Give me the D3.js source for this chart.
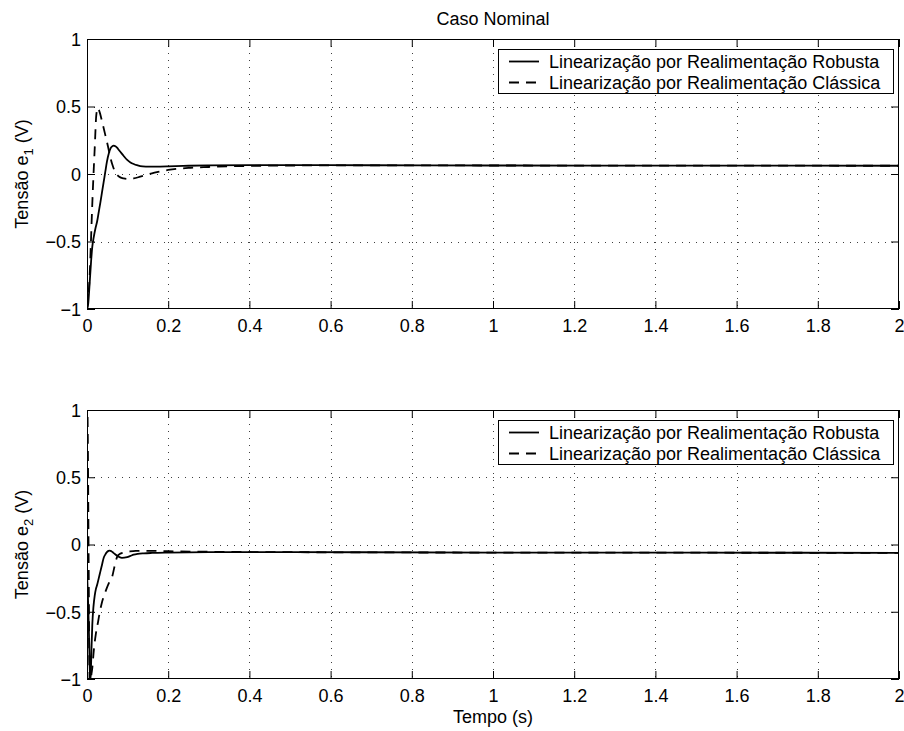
<!DOCTYPE html>
<html>
<head>
<meta charset="utf-8">
<script src="https://cdn.jsdelivr.net/npm/d3@7"></script>
<style>
  html, body { margin: 0; padding: 0; background: #fff; }
  svg { display: block; font-family: "Liberation Sans", Arial, Helvetica, sans-serif; }
</style>
</head>
<body>
<svg id="chart" width="904" height="731"></svg>
<script>
// ---------- data ----------
const chartTitle = "Caso Nominal";
const xLabel = "Tempo (s)";
const seriesNames = ["Linearização por Realimentação Robusta", "Linearização por Realimentação Clássica"];
const xTicks = [0, 0.2, 0.4, 0.6, 0.8, 1, 1.2, 1.4, 1.6, 1.8, 2];
const xTickLabels = ["0", "0.2", "0.4", "0.6", "0.8", "1", "1.2", "1.4", "1.6", "1.8", "2"];
const yTicks = [-1, -0.5, 0, 0.5, 1];
const yTickLabels = ["\u22121", "\u22120.5", "0", "0.5", "1"];

// panel 1: e1
const t1Robust = [0, 0.003, 0.0065, 0.010, 0.013, 0.0165, 0.021, 0.025, 0.029, 0.033, 0.037, 0.041, 0.045, 0.049, 0.054, 0.058, 0.062, 0.066, 0.070, 0.074, 0.078, 0.082, 0.090, 0.099, 0.107, 0.115, 0.123, 0.131, 0.145, 0.160, 0.18, 0.2, 0.25, 0.3, 0.4, 0.5, 0.7, 1.0, 1.5, 2.0];
const e1Robust = [-1, -0.96, -0.81, -0.65, -0.54, -0.47, -0.40, -0.35, -0.28, -0.21, -0.135, -0.06, 0.015, 0.09, 0.155, 0.19, 0.205, 0.21, 0.205, 0.195, 0.18, 0.165, 0.135, 0.104, 0.086, 0.074, 0.065, 0.059, 0.055, 0.054, 0.055, 0.057, 0.061, 0.064, 0.066, 0.066, 0.065, 0.063, 0.062, 0.061];
const t1Classic = [0, 0.003, 0.0066, 0.0095, 0.0123, 0.0155, 0.019, 0.023, 0.027, 0.031, 0.037, 0.045, 0.052, 0.058, 0.064, 0.070, 0.076, 0.082, 0.090, 0.1, 0.107, 0.115, 0.131, 0.145, 0.160, 0.18, 0.2, 0.25, 0.3, 0.35, 0.4, 0.5, 0.7, 1.0, 1.5, 2.0];
const e1Classic = [-1, -0.92, -0.75, -0.52, -0.28, -0.04, 0.19, 0.44, 0.49, 0.46, 0.39, 0.29, 0.2, 0.116, 0.055, 0.012, -0.012, -0.025, -0.033, -0.037, -0.037, -0.033, -0.02, -0.008, 0.005, 0.018, 0.03, 0.045, 0.052, 0.057, 0.060, 0.063, 0.064, 0.063, 0.062, 0.061];

// panel 2: e2
const t2Robust = [0, 0.003, 0.0055, 0.0078, 0.0095, 0.011, 0.013, 0.016, 0.019, 0.022, 0.025, 0.029, 0.033, 0.037, 0.041, 0.045, 0.049, 0.053, 0.056, 0.060, 0.065, 0.070, 0.075, 0.080, 0.086, 0.092, 0.099, 0.107, 0.115, 0.125, 0.14, 0.16, 0.2, 0.3, 0.5, 1.0, 1.5, 2.0];
const e2Robust = [-0.2, -0.45, -0.75, -1.02, -0.95, -0.78, -0.6, -0.46, -0.38, -0.33, -0.30, -0.25, -0.20, -0.15, -0.10, -0.075, -0.057, -0.047, -0.045, -0.05, -0.062, -0.074, -0.085, -0.094, -0.099, -0.098, -0.094, -0.085, -0.076, -0.07, -0.066, -0.063, -0.06, -0.057, -0.057, -0.06, -0.061, -0.062];
const t2Classic = [0, 0.002, 0.004, 0.006, 0.008, 0.010, 0.013, 0.017, 0.022, 0.027, 0.031, 0.036, 0.042, 0.048, 0.055, 0.062, 0.068, 0.074, 0.080, 0.087, 0.095, 0.105, 0.12, 0.14, 0.17, 0.2, 0.3, 0.5, 1.0, 1.5, 2.0];
const e2Classic = [1.2, 0.8, -0.1, -0.95, -1.15, -1.0, -0.92, -0.78, -0.66, -0.58, -0.51, -0.44, -0.38, -0.33, -0.28, -0.24, -0.16, -0.094, -0.072, -0.062, -0.056, -0.052, -0.048, -0.047, -0.048, -0.05, -0.054, -0.057, -0.06, -0.061, -0.062];

const panels = [
  { yLabelSub: "1", series: [[t1Robust, e1Robust], [t1Classic, e1Classic]] },
  { yLabelSub: "2", series: [[t2Robust, e2Robust], [t2Classic, e2Classic]] }
];

// ---------- layout ----------
const svg = d3.select("#chart");
const left = 87, right = 899;
const panelBoxes = [{ top: 39, bottom: 309 }, { top: 410, bottom: 679 }];
const fontSize = 18;
const tickLen = 8;
const dashes = [null, "10,7"];

const x = d3.scaleLinear().domain([0, 2]).range([left, right]);

panels.forEach((p, i) => {
  const box = panelBoxes[i];
  const y = d3.scaleLinear().domain([-1, 1]).range([box.bottom, box.top]);
  const g = svg.append("g");

  const clipId = "clip" + i;
  svg.append("clipPath").attr("id", clipId)
    .append("rect").attr("x", left).attr("y", box.top)
    .attr("width", right - left).attr("height", box.bottom - box.top);

  g.append("rect").attr("x", left).attr("y", box.top)
    .attr("width", right - left).attr("height", box.bottom - box.top)
    .attr("fill", "#fff");

  // grid (dotted)
  const grid = g.append("g").attr("stroke", "#000").attr("stroke-width", 1)
    .attr("stroke-dasharray", "1,6").attr("opacity", 0.75);
  grid.selectAll("line.vx").data(xTicks.slice(1, -1)).enter().append("line")
    .attr("x1", d => Math.round(x(d)) + 0.5).attr("x2", d => Math.round(x(d)) + 0.5)
    .attr("y1", box.top).attr("y2", box.bottom);
  grid.selectAll("line.hy").data(yTicks.slice(1, -1)).enter().append("line")
    .attr("y1", d => Math.round(y(d)) + 0.5).attr("y2", d => Math.round(y(d)) + 0.5)
    .attr("x1", left).attr("x2", right);

  // series
  const line = d3.line().x(d => x(d[0])).y(d => y(d[1])).curve(d3.curveMonotoneX);
  p.series.forEach((s, k) => {
    const pts = s[0].map((t, j) => [t, s[1][j]]);
    g.append("path").datum(pts)
      .attr("clip-path", "url(#" + clipId + ")")
      .attr("fill", "none").attr("stroke", "#000").attr("stroke-width", 1.8)
      .attr("stroke-linejoin", "round")
      .attr("stroke-dasharray", dashes[k])
      .attr("d", line);
  });

  // axes (inward ticks on all four sides)
  const fmtX = d => xTickLabels[xTicks.indexOf(d)];
  const fmtY = d => yTickLabels[yTicks.indexOf(d)];
  const axB = g.append("g").attr("transform", `translate(0,${box.bottom})`)
    .call(d3.axisBottom(x).tickValues(xTicks).tickFormat(fmtX).tickSizeInner(-tickLen).tickSizeOuter(0).tickPadding(10));
  const axT = g.append("g").attr("transform", `translate(0,${box.top})`)
    .call(d3.axisTop(x).tickValues(xTicks).tickFormat("").tickSizeInner(-tickLen).tickSizeOuter(0));
  const axL = g.append("g").attr("transform", `translate(${left},0)`)
    .call(d3.axisLeft(y).tickValues(yTicks).tickFormat(fmtY).tickSizeInner(-tickLen).tickSizeOuter(0).tickPadding(6));
  const axR = g.append("g").attr("transform", `translate(${right},0)`)
    .call(d3.axisRight(y).tickValues(yTicks).tickFormat("").tickSizeInner(-tickLen).tickSizeOuter(0));
  [axB, axT, axL, axR].forEach(a => {
    a.select(".domain").remove();
    a.selectAll("line").attr("stroke", "#000");
    a.selectAll("text").attr("font-size", fontSize).attr("fill", "#000")
      .attr("font-family", '"Liberation Sans", Arial, Helvetica, sans-serif');
  });
  axL.selectAll("text").attr("dy", "0.36em");

  // frame
  g.append("rect").attr("x", left + 0.5).attr("y", box.top + 0.5)
    .attr("width", right - left - 1).attr("height", box.bottom - box.top - 1)
    .attr("fill", "none").attr("stroke", "#000").attr("stroke-width", 1);

  // y label
  const yl = g.append("text")
    .attr("transform", `translate(28,${(box.top + box.bottom) / 2}) rotate(-90)`)
    .attr("text-anchor", "middle").attr("font-size", fontSize).attr("fill", "#000");
  yl.append("tspan").text("Tensão e");
  yl.append("tspan").attr("font-size", 13).attr("dy", 5).text(p.yLabelSub);
  yl.append("tspan").attr("dy", -5).text(" (V)");

  // legend
  const lgRight = right - 6, lgTop = box.top + 10;
  const lg = g.append("g");
  const lgRect = lg.append("rect").attr("y", lgTop + 0.5).attr("height", 44)
    .attr("fill", "#fff").attr("stroke", "#000").attr("stroke-width", 1);
  const lgTexts = [];
  seriesNames.forEach((name, k) => {
    const cy = lgTop + 12.5 + k * 21;
    lgTexts.push(lg.append("text").attr("y", cy).attr("dy", "0.35em")
      .attr("font-size", fontSize).attr("fill", "#000").text(name));
    lg.append("line").attr("y1", cy).attr("y2", cy)
      .attr("stroke", "#000").attr("stroke-width", 1.8)
      .attr("stroke-dasharray", dashes[k]);
  });
  const maxW = d3.max(lgTexts, t => t.node().getComputedTextLength());
  const lgLeft = Math.round(lgRight - (maxW + 13 + 10 + 30 + 11));
  lgRect.attr("x", lgLeft + 0.5).attr("width", lgRight - lgLeft);
  lgTexts.forEach(t => t.attr("x", lgLeft + 51));
  lg.selectAll("line").attr("x1", lgLeft + 11).attr("x2", lgLeft + 41);
});

// title and x label
svg.append("text").attr("x", (left + right) / 2).attr("y", 25)
  .attr("text-anchor", "middle").attr("font-size", fontSize).attr("fill", "#000").text(chartTitle);
svg.append("text").attr("x", (left + right) / 2).attr("y", 723)
  .attr("text-anchor", "middle").attr("font-size", fontSize).attr("fill", "#000").text(xLabel);
</script>
</body>
</html>
